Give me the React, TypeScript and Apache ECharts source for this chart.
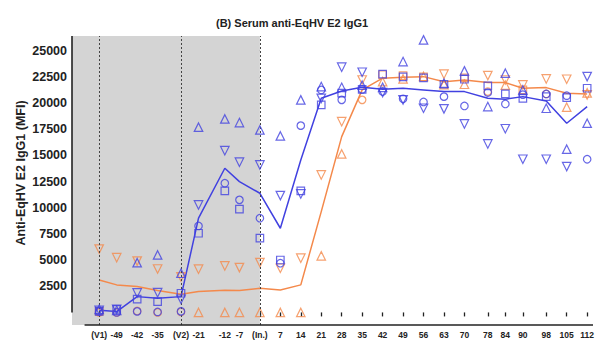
import React, { useEffect, useRef } from "react";
import * as echarts from "echarts";

// Study days (x positions) and their tick labels
const days = [-55, -49, -42, -35, -27, -21, -12, -7, 0, 7, 14, 21, 28, 35, 42, 49, 56, 63, 70, 78, 84, 90, 98, 105, 112];
const dayLabels = ["(V1)", "-49", "-42", "-35", "(V2)", "-21", "-12", "-7", "(In.)", "7", "14", "21", "28", "35", "42", "49", "56", "63", "70", "78", "84", "90", "98", "105", "112"];
const yTicks = [2500, 5000, 7500, 10000, 12500, 15000, 17500, 20000, 22500, 25000];
const eventDays = [-55, -27, 0];

// Blue group (individual animals)
const blueTriUp = [300, 200, 4750, 5490, 3740, 17690, 18480, 18130, 17430, 16860, 20300, 21570, 21500, 21700, 21500, 23960, 26030, 21900, 23070, 19660, 22850, 21250, 19500, 15590, 18070];
const blueTriDown = [200, 300, 1860, 1890, 1260, 10270, 15450, 14350, 14090, 11160, 11320, 20450, 23420, 22940, 21000, 20300, 19500, 19440, 18000, 16090, 17540, 14630, 14630, 13930, 22520];
const blueCircle = [100, 0, 100, 50, 100, 8260, 12340, 10750, 9000, 4700, 17840, 21250, 20300, 21300, 21100, 20400, 20100, 20610, 19720, 21000, 19910, 20800, 20870, 20700, 14630];
const blueSquare = [100, 300, 1270, 1030, 1830, 7560, 11600, 9860, 7090, 5010, 11600, 19820, 20940, 21310, 22750, 22500, 22400, 21790, 22270, 21630, 20870, 20450, 20610, 20520, 21410];
const blueMedian = [200, 80, 1510, 1360, 1510, 9000, 13770, 12490, 11380, 8040, 14560, 20450, 21150, 21500, 21310, 21410, 21250, 21090, 21090, 20450, 20360, 20610, 20200, 18070, 19660];

// Orange group
const orangeTriDown = [6050, 5230, 4900, 4150, 3390, 4130, 4440, 4280, 4760, 4220, 5180, 13130, 18220, 22200, null, null, null, 22750, null, 22620, 22200, 21730, 22300, 22270, 20770];
const orangeTriUp = [null, null, null, null, null, 0, 0, 0, 0, 0, 0, 5400, 15140, null, 22040, 22300, 22540, 21760, 21790, null, 21700, null, null, 19600, 20970];
const orangeCircle = [0, 0, 140, 0, 50, null, null, null, null, null, null, null, null, 20300, null, null, null, null, null, 21090, null, null, 20870, null, null];
const orangeSquare = [100, null, null, null, null, null, null, null, null, null, null, null, null, null, 22700, 22620, 22500, null, 22400, null, null, 21250, null, null, null];
const orangeMedian = [3100, 2630, 2470, 2090, 1740, 1990, 2120, 2090, 2310, 2150, 2630, 9630, 16790, 21250, 22370, 22460, 22520, 22040, 22200, 21950, 21950, 21410, 21470, 20930, 20870];

const BLUE = "#4141e0";
const ORANGE = "#f4894b";
const INK = "#222222";
const FONT = '"Liberation Sans", Arial, sans-serif';

const X_MIN = -64.3;
const X_MAX = 114;
const Y_MIN = -1200;
const Y_MAX = 26400;

function pairs(vals: (number | null)[]) {
  return days.map((d, i) => [d, vals[i]]).filter((p) => p[1] !== null && p[1] !== undefined);
}

function scatter(name: string, vals: (number | null)[], color: string, symbol: string, rotate: number, z: number) {
  return {
    name,
    type: "scatter",
    data: pairs(vals),
    symbol,
    symbolSize: symbol === "triangle" ? 8.5 : 7.5,
    symbolRotate: rotate,
    z,
    itemStyle: { color: "rgba(0,0,0,0)", borderColor: color, borderWidth: 1.2 },
    silent: true,
  };
}

export default function App() {
  const ref = useRef<HTMLDivElement>(null);
  useEffect(() => {
    if (!ref.current) return;
    const chart = echarts.init(ref.current, null, { renderer: "svg" });
    const labelMap: Record<string, string> = {};
    days.forEach((d, i) => (labelMap[String(d)] = dayLabels[i]));
    chart.setOption({
      animation: false,
      backgroundColor: "#ffffff",
      title: {
        text: "(B) Serum anti-EqHV E2 IgG1",
        left: 211,
        top: 12,
        textStyle: { fontFamily: FONT, fontWeight: "bold", fontSize: 11, color: INK },
      },
      grid: { left: 72, right: 8, top: 36, bottom: 22, containLabel: false },
      xAxis: {
        type: "value",
        min: X_MIN,
        max: X_MAX,
        axisLine: { show: false },
        splitLine: { show: false },
        axisTick: { show: true, customValues: days, length: 4, lineStyle: { color: INK, width: 1.3 } },
        axisLabel: {
          customValues: days,
          margin: 5,
          fontFamily: FONT,
          fontWeight: "bold",
          fontSize: 8.5,
          color: INK,
          formatter: (v: number) => labelMap[String(v)] ?? String(v),
        },
      },
      yAxis: {
        type: "value",
        min: Y_MIN,
        max: Y_MAX,
        axisLine: { show: false },
        splitLine: { show: false },
        axisTick: { show: true, customValues: yTicks, length: 4, lineStyle: { color: INK, width: 1.3 } },
        axisLabel: {
          customValues: yTicks,
          margin: 5,
          fontFamily: FONT,
          fontWeight: "bold",
          fontSize: 12.5,
          color: INK,
          formatter: (v: number) => String(v),
        },
      },
      graphic: [
        {
          type: "text",
          x: 21,
          y: 173,
          rotation: Math.PI / 2,
          style: {
            text: "Anti-EqHV E2 IgG1 (MFI)",
            font: 'bold 12.5px "Liberation Sans", Arial, sans-serif',
            fill: INK,
            align: "center",
            verticalAlign: "middle",
          },
        },
      ],
      series: [
        {
          name: "frame",
          type: "line",
          data: [],
          z: 0,
          silent: true,
          clip: false,
          markArea: {
            silent: true,
            itemStyle: { color: "#d4d4d4" },
            data: [[{ coord: [X_MIN, Y_MIN] }, { coord: [eventDays[2], Y_MAX] }]],
          },
          markLine: {
            silent: true,
            symbol: "none",
            label: { show: false },
            data: [
              ...eventDays.map((d) => ({ xAxis: d, lineStyle: { type: [2, 2], color: "#444", width: 1 } })),
              [
                { coord: [-60, Y_MIN], lineStyle: { type: "solid", color: INK, width: 1.6 } },
                { coord: [X_MAX, Y_MIN] },
              ],
              [
                { coord: [X_MIN, 0], lineStyle: { type: "solid", color: INK, width: 1.6 } },
                { coord: [X_MIN, Y_MAX] },
              ],
            ],
          },
        },
        {
          name: "orange median",
          type: "line",
          data: pairs(orangeMedian),
          showSymbol: false,
          lineStyle: { color: ORANGE, width: 1.5 },
          z: 2,
          silent: true,
        },
        {
          name: "blue median",
          type: "line",
          data: pairs(blueMedian),
          showSymbol: false,
          lineStyle: { color: BLUE, width: 1.5 },
          z: 3,
          silent: true,
        },
        scatter("orange ▼", orangeTriDown, ORANGE, "triangle", 180, 4),
        scatter("orange ▲", orangeTriUp, ORANGE, "triangle", 0, 4),
        scatter("orange ●", orangeCircle, ORANGE, "circle", 0, 4),
        scatter("orange ■", orangeSquare, ORANGE, "rect", 0, 4),
        scatter("blue ▲", blueTriUp, BLUE, "triangle", 0, 5),
        scatter("blue ▼", blueTriDown, BLUE, "triangle", 180, 5),
        scatter("blue ●", blueCircle, BLUE, "circle", 0, 5),
        scatter("blue ■", blueSquare, BLUE, "rect", 0, 5),
      ],
    });
    return () => chart.dispose();
  }, []);
  return <div ref={ref} style={{ position: "absolute", left: 0, top: 0, width: 601, height: 347 }} />;
}
